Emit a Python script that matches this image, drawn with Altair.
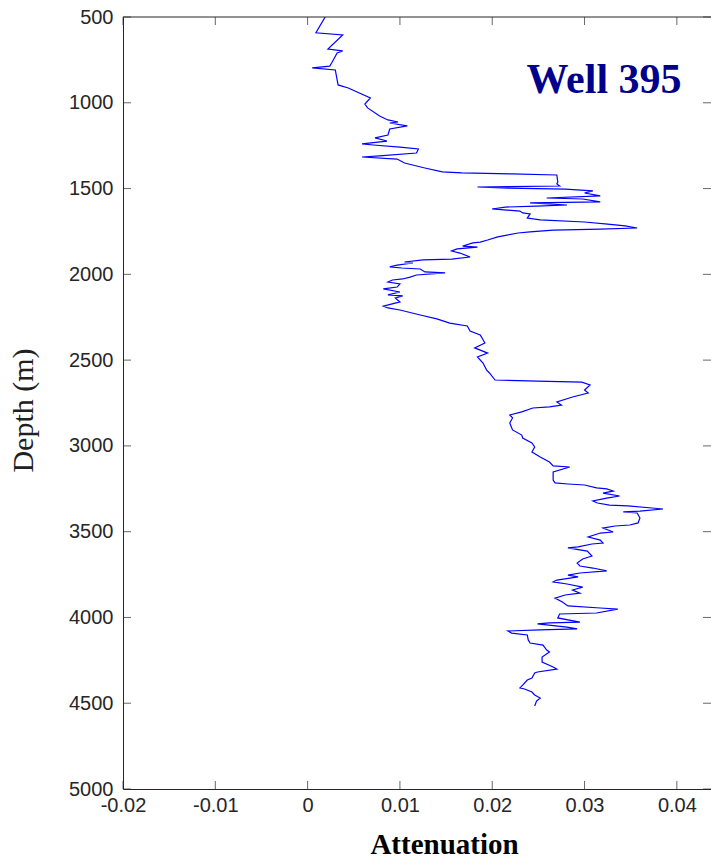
import altair as alt
import pandas as pd

# Attenuation log for Well 395, read top to bottom
attenuation = [
    0.0019, 0.0009, 0.0038, 0.0022, 0.0038, 0.0032, 0.0026, 0.0024, 0.0005, 0.0030,
    0.0033, 0.0044, 0.0068, 0.0062, 0.0065, 0.0078, 0.0087, 0.0098, 0.0089, 0.0108,
    0.0089, 0.0087, 0.0073, 0.0086, 0.0059, 0.0071, 0.0100, 0.0120, 0.0118, 0.0078,
    0.0059, 0.0097, 0.0105, 0.0127, 0.0146, 0.0167, 0.0221, 0.0270, 0.0271, 0.0270,
    0.0273, 0.0184, 0.0217, 0.0279, 0.0309, 0.0300, 0.0317, 0.0259, 0.0298, 0.0317,
    0.0241, 0.0281, 0.0248, 0.0214, 0.0200, 0.0230, 0.0233, 0.0241, 0.0238, 0.0252,
    0.0300, 0.0325, 0.0344, 0.0357, 0.0317, 0.0266, 0.0241, 0.0228, 0.0216, 0.0206,
    0.0195, 0.0187, 0.0179, 0.0168, 0.0184, 0.0162, 0.0156, 0.0165, 0.0176, 0.0156,
    0.0125, 0.0105, 0.0114, 0.0097, 0.0089, 0.0102, 0.0122, 0.0127, 0.0149, 0.0118,
    0.0111, 0.0103, 0.0092, 0.0087, 0.0100, 0.0097, 0.0082, 0.0100, 0.0087, 0.0103,
    0.0095, 0.0100, 0.0082, 0.0087, 0.0100, 0.0122, 0.0140, 0.0154, 0.0173, 0.0176,
    0.0187, 0.0189, 0.0192, 0.0181, 0.0195, 0.0184, 0.0190, 0.0194, 0.0197, 0.0203,
    0.0249, 0.0297, 0.0306, 0.0300, 0.0304, 0.0287, 0.0270, 0.0275, 0.0262, 0.0244,
    0.0232, 0.0219, 0.0222, 0.0219, 0.0222, 0.0232, 0.0233, 0.0243, 0.0246, 0.0243,
    0.0252, 0.0262, 0.0266, 0.0284, 0.0266, 0.0266, 0.0268, 0.0282, 0.0300, 0.0313,
    0.0324, 0.0331, 0.0320, 0.0338, 0.0324, 0.0309, 0.0314, 0.0327, 0.0347, 0.0373,
    0.0385, 0.0360, 0.0342, 0.0357, 0.0360, 0.0358, 0.0349, 0.0333, 0.0320, 0.0331,
    0.0317, 0.0304, 0.0317, 0.0320, 0.0308, 0.0293, 0.0282, 0.0303, 0.0308, 0.0298,
    0.0292, 0.0295, 0.0309, 0.0324, 0.0295, 0.0282, 0.0293, 0.0270, 0.0266, 0.0281,
    0.0298, 0.0287, 0.0295, 0.0279, 0.0268, 0.0276, 0.0282, 0.0317, 0.0336, 0.0313,
    0.0273, 0.0271, 0.0295, 0.0262, 0.0249, 0.0281, 0.0292, 0.0252, 0.0217, 0.0221,
    0.0238, 0.0239, 0.0241, 0.0255, 0.0259, 0.0262, 0.0254, 0.0254, 0.0266, 0.0270,
    0.0249, 0.0246, 0.0243, 0.0238, 0.0233, 0.0230, 0.0235, 0.0243, 0.0246, 0.0252,
    0.0248, 0.0246,
]
depth = [
    500, 592, 605, 687, 698, 710, 768, 786, 797, 809,
    896, 914, 972, 1007, 1030, 1077, 1100, 1112, 1118, 1135,
    1153, 1188, 1205, 1223, 1240, 1246, 1258, 1269, 1293, 1310,
    1316, 1328, 1351, 1380, 1403, 1409, 1415, 1421, 1462, 1473,
    1485, 1491, 1497, 1503, 1514, 1526, 1543, 1555, 1561, 1578,
    1584, 1596, 1602, 1608, 1619, 1631, 1642, 1648, 1672, 1683,
    1695, 1707, 1718, 1730, 1736, 1742, 1753, 1759, 1771, 1782,
    1800, 1812, 1817, 1835, 1841, 1852, 1864, 1876, 1899, 1911,
    1916, 1928, 1934, 1946, 1957, 1963, 1969, 1986, 1992, 2004,
    2016, 2027, 2033, 2045, 2056, 2074, 2085, 2103, 2120, 2126,
    2138, 2161, 2185, 2196, 2208, 2237, 2260, 2284, 2301, 2330,
    2354, 2371, 2400, 2429, 2459, 2482, 2517, 2558, 2575, 2616,
    2622, 2628, 2645, 2674, 2692, 2715, 2744, 2762, 2773, 2779,
    2802, 2820, 2837, 2867, 2907, 2937, 2954, 2983, 3006, 3036,
    3065, 3094, 3117, 3123, 3152, 3199, 3216, 3222, 3228, 3245,
    3251, 3263, 3275, 3292, 3304, 3321, 3333, 3345, 3350, 3362,
    3368, 3380, 3385, 3391, 3420, 3449, 3461, 3467, 3479, 3502,
    3508, 3531, 3549, 3566, 3572, 3589, 3595, 3613, 3642, 3659,
    3683, 3700, 3712, 3729, 3741, 3753, 3764, 3782, 3793, 3805,
    3823, 3840, 3858, 3869, 3887, 3910, 3933, 3945, 3951, 3974,
    3980, 4003, 4027, 4032, 4038, 4056, 4067, 4073, 4079, 4091,
    4102, 4131, 4149, 4161, 4190, 4201, 4231, 4260, 4289, 4301,
    4318, 4324, 4353, 4365, 4394, 4411, 4417, 4435, 4452, 4470,
    4487, 4516,
]

x_ticks = [-0.02, -0.01, 0, 0.01, 0.02, 0.03, 0.04]
y_ticks = [500, 1000, 1500, 2000, 2500, 3000, 3500, 4000, 4500, 5000]

well_label = ["Well 395"]

X_MIN, X_MAX = -0.02, 0.0437
Y_MIN, Y_MAX = 500, 5000

AXIS_COLOR = "#262626"
SANS = "Liberation Sans"
SERIF = "Liberation Serif"

log = pd.DataFrame({"i": list(range(len(depth))), "att": attenuation, "depth": depth})
xt = pd.DataFrame({"v": x_ticks})
yt = pd.DataFrame({"v": y_ticks})

xs = alt.Scale(domain=[X_MIN, X_MAX], nice=False, zero=False)
ys = alt.Scale(domain=[Y_MIN, Y_MAX], reverse=True, nice=False, zero=False)

x_axis = alt.Axis(
    values=x_ticks,
    labelExpr="'' + datum.value",
    title="Attenuation",
    titleFont=SERIF,
    titleFontWeight="bold",
    titleFontSize=29,
    titleColor="#000000",
    titleX=321,
    titleY=64,
    titleAlign="center",
    titleBaseline="alphabetic",
    labelFont=SANS,
    labelFontSize=20,
    labelColor=AXIS_COLOR,
    labelPadding=6,
    labelOverlap=False,
    labelFlush=False,
    tickSize=0,
    domainColor=AXIS_COLOR,
    domainWidth=1,
    grid=False,
)
y_axis = alt.Axis(
    values=y_ticks,
    format="d",
    title="Depth (m)",
    titleFont=SERIF,
    titleFontWeight="normal",
    titleFontSize=30,
    titleColor="#202020",
    titleAngle=-90,
    titleX=-91,
    titleY=393,
    titleAlign="center",
    titleBaseline="alphabetic",
    labelFont=SANS,
    labelFontSize=20,
    labelColor=AXIS_COLOR,
    labelPadding=10,
    labelOverlap=False,
    labelFlush=False,
    tickSize=0,
    domainColor=AXIS_COLOR,
    domainWidth=1,
    grid=False,
)

curve = alt.Chart(log).mark_line(color="#0000FF", strokeWidth=1.2, clip=True).encode(
    x=alt.X("att:Q", scale=xs, axis=x_axis),
    y=alt.Y("depth:Q", scale=ys, axis=y_axis),
    order="i:Q",
)

# inward-pointing tick marks on all four sides
tick_len = 8
bottom_ticks = alt.Chart(xt).mark_tick(
    orient="vertical", size=tick_len, thickness=1, yOffset=-tick_len / 2, color=AXIS_COLOR
).encode(x=alt.X("v:Q", scale=xs, axis=x_axis), y=alt.YDatum(Y_MAX, scale=ys, axis=y_axis))

top_ticks = alt.Chart(xt).mark_tick(
    orient="vertical", size=tick_len, thickness=1, yOffset=tick_len / 2, color=AXIS_COLOR
).encode(x=alt.X("v:Q", scale=xs, axis=x_axis), y=alt.YDatum(Y_MIN, scale=ys, axis=y_axis))

left_ticks = alt.Chart(yt).mark_tick(
    orient="horizontal", size=tick_len, thickness=1, xOffset=tick_len / 2, color=AXIS_COLOR
).encode(y=alt.Y("v:Q", scale=ys, axis=y_axis), x=alt.XDatum(X_MIN, scale=xs, axis=x_axis))

right_ticks = alt.Chart(yt).mark_tick(
    orient="horizontal", size=tick_len, thickness=1, xOffset=-tick_len / 2, color=AXIS_COLOR
).encode(y=alt.Y("v:Q", scale=ys, axis=y_axis), x=alt.XDatum(X_MAX, scale=xs, axis=x_axis))

# top frame line
top_line = alt.Chart(pd.DataFrame({"v": [Y_MIN]})).mark_rule(
    color=AXIS_COLOR, strokeWidth=1
).encode(y=alt.Y("v:Q", scale=ys, axis=y_axis))

label = alt.Chart(pd.DataFrame({"name": well_label})).mark_text(
    align="left",
    baseline="alphabetic",
    font=SERIF,
    fontWeight="bold",
    fontSize=42,
    color="#00008B",
).encode(
    x=alt.XDatum(0.0237, scale=xs, axis=x_axis),
    y=alt.YDatum(943, scale=ys, axis=y_axis),
    text="name:N",
)

chart = (
    alt.layer(curve, top_line, bottom_ticks, top_ticks, left_ticks, right_ticks, label)
    .properties(
        width=588,
        height=772,
        autosize=alt.AutoSizeParams(type="none"),
        padding={"left": 123, "top": 17, "right": 0, "bottom": 70},
        background="#FFFFFF",
    )
    .configure_view(stroke=None)
)

chart.save("out.html", embed_options={"renderer": "svg", "actions": False})
